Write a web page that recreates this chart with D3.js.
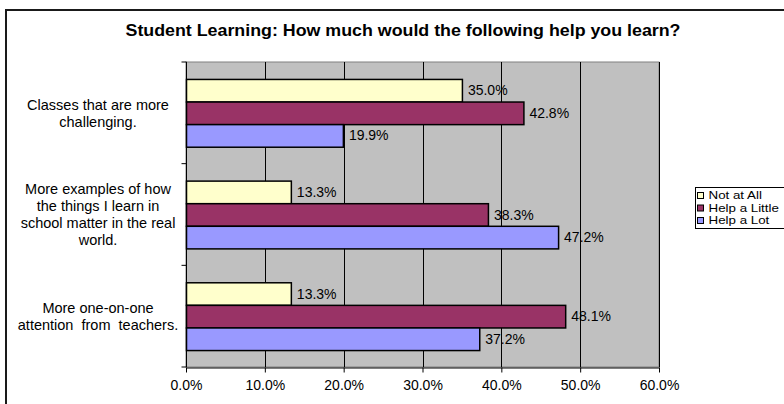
<!DOCTYPE html>
<html>
<head>
<meta charset="utf-8">
<script src="https://cdn.jsdelivr.net/npm/d3@7"></script>
<style>
  html, body { margin: 0; padding: 0; background: #fff; }
  svg { display: block; }
  text { font-family: "Liberation Sans", Arial, sans-serif; fill: #000; }
</style>
</head>
<body>
<svg id="chart" width="784" height="404"></svg>
<script>
// Survey categories (top to bottom) and their wrapped label lines
const categories = [
  "Classes that are more challenging.",
  "More examples of how the things I learn in school matter in the real world.",
  "More one-on-one attention from teachers."
];
const categoryLines = [
  ["Classes that are more", "challenging."],
  ["More examples of how", "the things I learn in", "school matter in the real", "world."],
  ["More one-on-one", "attention  from  teachers."]
];

// Response series, values in percent per category
const seriesNames = ["Not at All", "Help a Little", "Help a Lot"];
const notAtAll   = [35.0, 13.3, 13.3];
const helpLittle = [42.8, 38.3, 48.1];
const helpLot    = [19.9, 47.2, 37.2];
const seriesValues = [notAtAll, helpLittle, helpLot];
const seriesColors = ["#FFFFCC", "#993366", "#9999FF"];

const xTicks = [0, 10, 20, 30, 40, 50, 60];

const title = "Student Learning: How much would the following help you learn?";

const svg = d3.select("#chart");

// Outer chart frame
svg.append("rect")
  .attr("x", 6).attr("y", 10)
  .attr("width", 800).attr("height", 420)
  .attr("fill", "#fff")
  .attr("stroke", "#1a1a1a").attr("stroke-width", 2);

const plot = { left: 186, right: 659, top: 62, bottom: 367 };

const x = d3.scaleLinear().domain([0, 60]).range([plot.left, plot.right]);
const y = d3.scaleBand().domain(categories).range([plot.top, plot.bottom]).padding(0);
const ySub = d3.scaleBand().domain(seriesNames).range([0, y.bandwidth()])
  .paddingInner(0).paddingOuter(0.75);

// Plot area background
svg.append("rect")
  .attr("x", plot.left).attr("y", plot.top)
  .attr("width", plot.right - plot.left).attr("height", plot.bottom - plot.top)
  .attr("fill", "#C0C0C0")
  .attr("stroke", "#808080").attr("stroke-width", 1);

// Vertical gridlines
svg.append("g")
  .selectAll("line")
  .data(xTicks.slice(1))
  .join("line")
  .attr("x1", d => Math.round(x(d)) + 0.5).attr("x2", d => Math.round(x(d)) + 0.5)
  .attr("y1", plot.top).attr("y2", plot.bottom)
  .attr("stroke", "#000").attr("stroke-width", 1);

// Bars
const rows = [];
categories.forEach((c, i) => {
  seriesNames.forEach((s, j) => {
    rows.push({ cat: c, series: s, value: seriesValues[j][i], color: seriesColors[j] });
  });
});

svg.append("g")
  .selectAll("rect")
  .data(rows)
  .join("rect")
  .attr("x", plot.left + 0.5)
  .attr("y", d => y(d.cat) + ySub(d.series) + 0.5)
  .attr("width", d => x(d.value) - plot.left)
  .attr("height", ySub.bandwidth())
  .attr("fill", d => d.color)
  .attr("stroke", "#000").attr("stroke-width", 1.5);

// Value labels
svg.append("g")
  .selectAll("text")
  .data(rows)
  .join("text")
  .attr("x", d => x(d.value) + 6)
  .attr("y", d => y(d.cat) + ySub(d.series) + ySub.bandwidth() / 2)
  .attr("dy", "0.36em")
  .attr("font-size", 14)
  .attr("fill", "#111")
  .text(d => d.value.toFixed(1) + "%");

// Value axis
const xAxis = svg.append("g")
  .attr("transform", `translate(0,${plot.bottom + 0.5})`)
  .call(d3.axisBottom(x).tickValues(xTicks).tickSizeInner(5).tickSizeOuter(0)
    .tickFormat(d => d.toFixed(1) + "%"));
xAxis.select(".domain").attr("stroke", "#000");
xAxis.selectAll(".tick line").attr("stroke", "#000");
xAxis.selectAll(".tick text")
  .attr("font-family", "Liberation Sans, Arial, sans-serif")
  .attr("font-size", 14).attr("fill", "#111").attr("dy", "1.0em");

// Category axis
const yAxisG = svg.append("g").attr("transform", `translate(${plot.left + 0.5},0)`);
yAxisG.append("line")
  .attr("y1", plot.top).attr("y2", plot.bottom)
  .attr("stroke", "#000");
yAxisG.selectAll("line.tick")
  .data(categories.concat([null]))
  .join("line").attr("class", "tick")
  .attr("x1", -5).attr("x2", 0)
  .attr("y1", (d, i) => i < categories.length ? y(d) : plot.bottom)
  .attr("y2", (d, i) => i < categories.length ? y(d) : plot.bottom)
  .attr("stroke", "#000");

const lineH = 17;
categories.forEach((c, i) => {
  const lines = categoryLines[i];
  const cy = y(c) + y.bandwidth() / 2;
  const t = svg.append("text")
    .attr("text-anchor", "middle")
    .attr("font-size", 14.5)
    .attr("fill", "#111")
    .attr("xml:space", "preserve");
  lines.forEach((ln, k) => {
    t.append("tspan")
      .attr("x", 98)
      .attr("y", cy + (k - (lines.length - 1) / 2) * lineH)
      .attr("dy", "0.36em")
      .text(ln);
  });
});

// Title
svg.append("text")
  .attr("x", 403).attr("y", 30)
  .attr("dy", "0.36em")
  .attr("text-anchor", "middle")
  .attr("font-size", 16)
  .attr("font-weight", "bold")
  .attr("textLength", 555)
  .attr("lengthAdjust", "spacingAndGlyphs")
  .text(title);

// Legend (compact rows, text widened horizontally)
const legendStep = 12.5;
const legend = svg.append("g").attr("transform", "translate(695.5,187.5)");
legend.append("rect")
  .attr("width", 100).attr("height", 41)
  .attr("fill", "#fff").attr("stroke", "#000").attr("stroke-width", 1);
const items = legend.selectAll("g.item")
  .data(seriesNames)
  .join("g").attr("class", "item")
  .attr("transform", (d, i) => `translate(0,${8 + i * legendStep})`);
items.append("rect")
  .attr("x", 2).attr("y", -3)
  .attr("width", 6).attr("height", 6)
  .attr("fill", (d, i) => seriesColors[i])
  .attr("stroke", "#000").attr("stroke-width", 1);
items.append("text")
  .attr("transform", "translate(13,0) scale(1.27,1)")
  .attr("dy", "0.36em")
  .attr("font-size", 10.5)
  .text(d => d);
</script>
</body>
</html>
